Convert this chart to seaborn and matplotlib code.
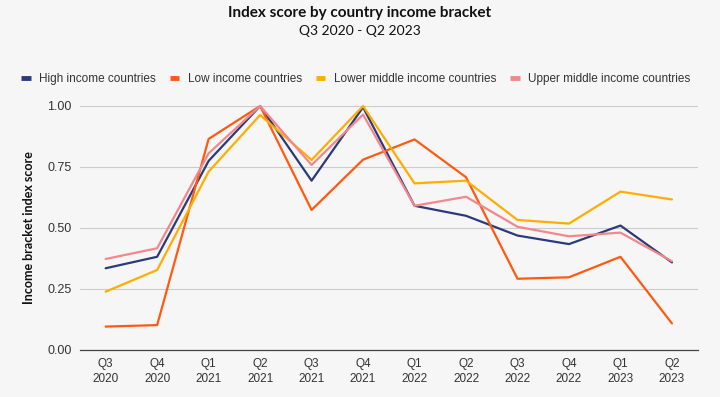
import matplotlib.pyplot as plt
import pandas as pd
import seaborn as sns

quarters = ['Q3\n2020', 'Q4\n2020', 'Q1\n2021', 'Q2\n2021', 'Q3\n2021', 'Q4\n2021',
            'Q1\n2022', 'Q2\n2022', 'Q3\n2022', 'Q4\n2022', 'Q1\n2023', 'Q2\n2023']

high_income = [0.335, 0.382, 0.775, 1.0, 0.694, 0.995, 0.591, 0.550, 0.469, 0.434, 0.510, 0.359]
low_income = [0.096, 0.102, 0.865, 1.0, 0.574, 0.780, 0.863, 0.708, 0.292, 0.298, 0.382, 0.109]
lower_middle = [0.239, 0.328, 0.731, 0.963, 0.779, 1.0, 0.683, 0.694, 0.533, 0.518, 0.649, 0.617]
upper_middle = [0.373, 0.417, 0.806, 1.0, 0.758, 0.965, 0.591, 0.628, 0.505, 0.466, 0.481, 0.364]

series = {
    'High income countries': high_income,
    'Low income countries': low_income,
    'Lower middle income countries': lower_middle,
    'Upper middle income countries': upper_middle,
}
colors = ['#2b3a7a', '#ff5a0f', '#ffad00', '#f2878c']

rows = []
for name, vals in series.items():
    for i, v in enumerate(vals):
        rows.append({'quarter': i, 'group': name, 'score': v})
df = pd.DataFrame(rows)

bg = '#f6f6f6'
sns.set_style('white')
plt.rcParams['font.family'] = ['Liberation Sans', 'DejaVu Sans']

fig = plt.figure(figsize=(7.2, 3.97), dpi=100, facecolor=bg)
ax = fig.add_axes([0.111, 0.1184, 0.858, 0.6146])
ax.set_facecolor(bg)

sns.lineplot(data=df, x='quarter', y='score', hue='group', palette=colors,
             linewidth=1.6, ax=ax, legend=False)
for line in ax.lines:
    line.set_clip_on(False)

ax.set_xlim(-0.5, len(quarters) - 0.5)
ax.set_ylim(0, 1.0)
ax.set_xticks(range(len(quarters)))
ax.set_xticklabels(quarters, fontsize=8.5, color='#333333', linespacing=1.3)
ax.set_yticks([0, 0.25, 0.5, 0.75, 1.0])
ax.set_yticklabels(['0.00', '0.25', '0.50', '0.75', '1.00'], fontsize=9, color='#333333')
ax.tick_params(axis='both', length=0, pad=6)
ax.yaxis.grid(True, color='#cccccc', linewidth=0.8)
ax.set_axisbelow(True)
for side in ['top', 'right', 'left']:
    ax.spines[side].set_visible(False)
ax.spines['bottom'].set_color('#444444')
ax.spines['bottom'].set_linewidth(0.9)
ax.set_xlabel('')
ax.set_ylabel('Income bracket index score', fontsize=9, fontweight='bold',
              family='Lato', color='#111111', labelpad=9)

# legend
handles = [plt.Line2D([], [], color=c, linewidth=3.5, solid_capstyle='butt') for c in colors]
fig.legend(handles, list(series.keys()), loc='center left', bbox_to_anchor=(0.015, 0.8),
           ncol=4, frameon=False, fontsize=8.5, handlelength=0.8, handletextpad=0.7,
           columnspacing=1.2, labelcolor='#333333')

fig.text(0.5, 0.968, 'Index score by country income bracket', ha='center', va='center',
         fontsize=11, fontweight='bold', family='Lato', color='#111111')
fig.text(0.5, 0.923, 'Q3 2020 - Q2 2023', ha='center', va='center',
         fontsize=10, family='Lato', color='#111111')

fig.savefig('out.png', dpi=100, facecolor=bg)
